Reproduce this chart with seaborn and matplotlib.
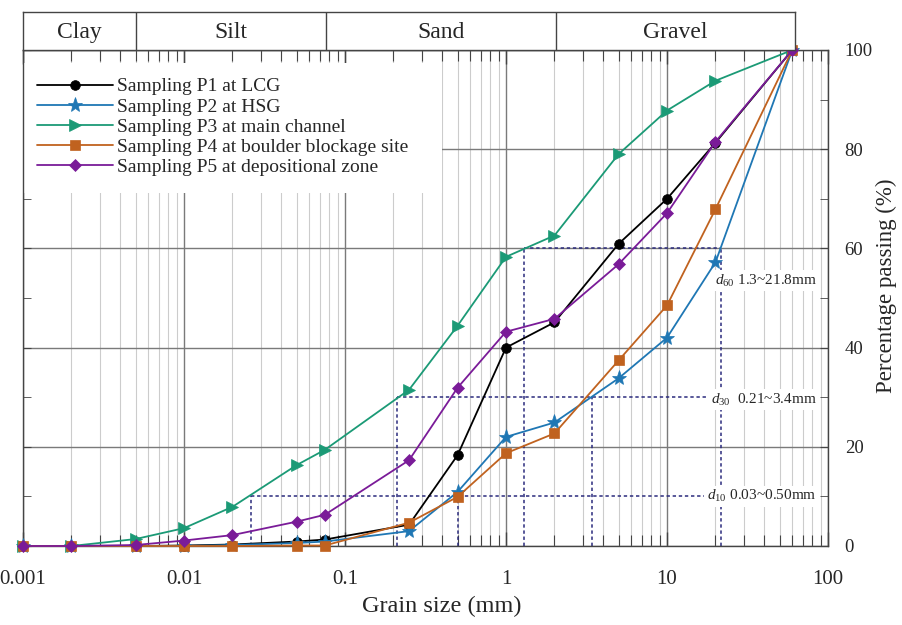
import numpy as np
import matplotlib
matplotlib.use("Agg")
import matplotlib.pyplot as plt
import matplotlib.ticker as mticker
from matplotlib.patches import Rectangle
import seaborn as sns

# grain size (mm) and percentage passing for each sample
sizes = [0.001, 0.002, 0.005, 0.01, 0.02, 0.05, 0.075, 0.25, 0.5, 1, 2, 5, 10, 20, 60]
p1 = [0, 0, 0, 0.1, 0.3, 0.9, 1.3, 4.3, 18.3, 40.0, 45.1, 60.9, 70.0, 81.3, 100]
p2 = [0, 0, 0, 0, 0.2, 0.6, 0.9, 3.0, 10.9, 22.0, 24.9, 33.8, 42.0, 57.2, 100]
p3 = [0, 0, 1.4, 3.6, 7.9, 16.3, 19.4, 31.5, 44.4, 58.3, 62.6, 79.0, 87.8, 93.8, 100]
p4 = [0, 0, 0, 0, 0, 0.1, 0.1, 4.7, 9.9, 18.7, 22.7, 37.4, 48.5, 67.9, 100]
p5 = [0, 0, 0.2, 1.1, 2.2, 4.9, 6.3, 17.3, 31.9, 43.2, 45.8, 56.8, 67.1, 81.5, 100]
labels = ["Sampling P1 at LCG", "Sampling P2 at HSG", "Sampling P3 at main channel",
          "Sampling P4 at boulder blockage site", "Sampling P5 at depositional zone"]

# soil class bands
band_edges = [0.001, 0.005, 0.075, 2, 60]
band_names = ["Clay", "Silt", "Sand", "Gravel"]

# characteristic diameters
d10 = [0.026, 0.5]
d30 = [0.21, 3.4]
d60 = [1.3, 21.8]
x_ticks = [0.001, 0.01, 0.1, 1, 10, 100]
x_ticklabels = ["0.001", "0.01", "0.1", "1", "10", "100"]
y_ticks = [0, 20, 40, 60, 80, 100]

sns.set_style("white")
plt.rcParams["font.family"] = ["Liberation Serif", "DejaVu Serif"]
plt.rcParams["mathtext.fontset"] = "custom"
plt.rcParams["mathtext.rm"] = "Liberation Serif"
plt.rcParams["mathtext.it"] = "Liberation Serif:italic"

fig = plt.figure(figsize=(9.03, 6.25), dpi=100)
ax = fig.add_axes([23 / 903, 79 / 625, 805 / 903, 496 / 625])

series = [p1, p2, p3, p4, p5]
colors = ["#000000", "#1f77b4", "#1b9a76", "#c0621f", "#7a1b98"]
markers = ["o", "*", ">", "s", "D"]
msizes = [7, 11, 8, 6.5, 6.5]
for vals, lab, c, m, ms in zip(series, labels, colors, markers, msizes):
    sns.lineplot(x=sizes, y=vals, ax=ax, color=c, marker=m, markersize=ms,
                 markeredgecolor=c, markeredgewidth=0.5, linewidth=1.3,
                 label=lab, clip_on=False, zorder=4)

ax.set_xscale("log")
ax.set_xlim(0.001, 100)
ax.set_ylim(0, 100)

# grid
ax.xaxis.set_major_locator(mticker.FixedLocator(x_ticks))
ax.xaxis.set_major_formatter(mticker.FixedFormatter(x_ticklabels))
ax.xaxis.set_minor_locator(mticker.LogLocator(base=10, subs=np.arange(2, 10)))
ax.xaxis.set_minor_formatter(mticker.NullFormatter())
ax.yaxis.set_major_locator(mticker.FixedLocator(y_ticks))
ax.yaxis.set_minor_locator(mticker.MultipleLocator(10))
ax.grid(True, which="major", axis="both", color="#7a7a7a", linewidth=1.0, zorder=0)
ax.grid(True, which="minor", axis="x", color="#cccccc", linewidth=0.8, zorder=0)
ax.set_axisbelow(True)

ax.yaxis.tick_right()
ax.yaxis.set_label_position("right")
ax.tick_params(axis="x", which="both", direction="in", top=True, bottom=True,
               labelsize=15, pad=17, color="#444444")
ax.tick_params(axis="x", which="major", length=10, width=1)
ax.tick_params(axis="x", which="minor", length=8, width=0.8)
ax.tick_params(axis="y", which="both", direction="in", left=True, right=True,
               length=6, labelsize=13.5, pad=12, color="#444444")
for s in ax.spines.values():
    s.set_color("#444444")
    s.set_linewidth(1.0)

ax.set_xlabel("Grain size (mm)", fontsize=17.5)
ax.xaxis.set_label_coords(0.52, -0.1)
ax.set_ylabel("Percentage passing (%)", fontsize=16.5)
ax.yaxis.set_label_coords(1.06, 0.524)

# dotted guide lines for d10, d30, d60
dcol = "#2b2b7d"
dls = (0, (2.2, 1.8))
lx = 85
ax.plot([d60[0], d60[1]], [60, 60], color=dcol, ls=dls, lw=1.1, zorder=2)
ax.plot([d30[0], lx], [30, 30], color=dcol, ls=dls, lw=1.1, zorder=2)
ax.plot([d10[0], lx], [10, 10], color=dcol, ls=dls, lw=1.1, zorder=2)
for xv, top in [(d60[0], 60), (d60[1], 60), (d30[0], 30), (d30[1], 30),
                (d10[0], 10), (d10[1], 10)]:
    ax.plot([xv, xv], [0, top], color=dcol, ls=dls, lw=1.1, zorder=2)

box = dict(facecolor="white", edgecolor="none", pad=2)
ax.text(lx, 53.5, r"$d_{60}$ 1.3~21.8mm", ha="right", va="center", fontsize=11, bbox=box, zorder=3)
ax.text(lx, 29.5, r"$d_{30}$  0.21~3.4mm", ha="right", va="center", fontsize=11, bbox=box, zorder=3)
ax.text(lx, 10, r"$d_{10}$ 0.03~0.50mm", ha="right", va="center", fontsize=11, bbox=box, zorder=3)

# white area behind the legend
ax.add_patch(Rectangle((0, 0.712), 0.5205, 0.262, transform=ax.transAxes,
                       facecolor="white", edgecolor="none", zorder=2.5))
leg = ax.legend(loc="upper left", bbox_to_anchor=(0.0174, 0.944), borderaxespad=0,
                fontsize=14, handlelength=3.9, handletextpad=0.2, labelspacing=0.13,
                borderpad=0, frameon=False)
leg.set_zorder(3)

# soil class band on top
bax = fig.add_axes([23 / 903, 575 / 625, 772 / 903, 38 / 625])
bax.set_xscale("log")
bax.set_xlim(band_edges[0], band_edges[-1])
bax.set_ylim(0, 1)
for e in band_edges[1:-1]:
    bax.axvline(e, color="#444444", lw=1.0)
for i, name in enumerate(band_names):
    xc = np.sqrt(band_edges[i] * band_edges[i + 1])
    bax.text(xc, 0.45, name, ha="center", va="center", fontsize=17)
bax.set_xticks([])
bax.set_yticks([])
bax.minorticks_off()
for s in bax.spines.values():
    s.set_color("#444444")
    s.set_linewidth(1.0)

fig.savefig("out.png", dpi=100)
